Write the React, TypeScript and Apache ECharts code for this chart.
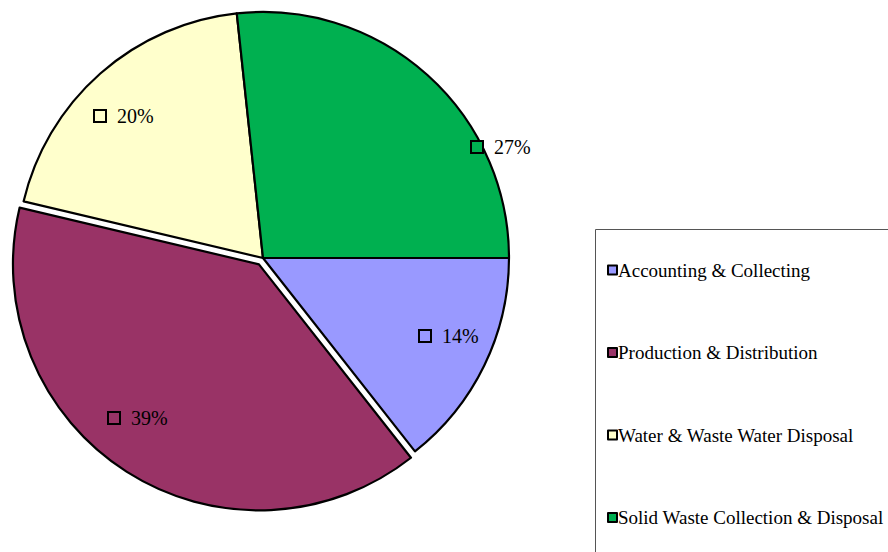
import React, { useEffect, useRef } from "react";
import * as echarts from "echarts";

const categories = [
  "Accounting & Collecting",
  "Production & Distribution",
  "Water & Waste Water Disposal",
  "Solid Waste Collection & Disposal",
];
const values = [14.4, 39.3, 19.6, 26.7];
const colors = ["#9999FF", "#993366", "#FFFFCC", "#00B050"];
const exploded = [false, true, false, false];
// label anchor offsets from pie centre (layout only)
const labelOffsets: [number, number][] = [
  [157, 78],
  [-154, 160],
  [-168, -142],
  [209, -111],
];

const CX = 263;
const CY = 258;
const R = 246;
const EXPLODE = 7.5;
const FONT = "Times New Roman, Liberation Serif, serif";

export default function App() {
  const ref = useRef<HTMLDivElement>(null);
  useEffect(() => {
    const chart = echarts.init(ref.current!, null, { renderer: "svg" });
    const total = values.reduce((a, b) => a + b, 0);
    let acc = 0;
    const mids = values.map((v) => {
      const m = ((acc + v / 2) / total) * Math.PI * 2;
      acc += v;
      return m;
    });

    const makeSeries = (part: boolean) => {
      const idx = exploded.findIndex((e) => e);
      const dx = part ? Math.cos(mids[idx]) * EXPLODE : 0;
      const dy = part ? Math.sin(mids[idx]) * EXPLODE : 0;
      return {
        type: "pie",
        center: [CX + dx, CY + dy],
        radius: [0, R],
        startAngle: 0,
        clockwise: true,
        silent: true,
        emphasis: { disabled: true },
        labelLine: { show: false },
        labelLayout: (p: any) => {
          const o = labelOffsets[p.dataIndex];
          return {
            x: CX + o[0],
            y: CY + o[1],
            align: "left",
            verticalAlign: "middle",
          };
        },
        data: categories.map((name, i) => {
          const visible = exploded[i] === part;
          return {
            name,
            value: values[i],
            itemStyle: visible
              ? { color: colors[i], borderColor: "#000", borderWidth: 2.2 }
              : { color: "transparent", borderWidth: 0 },
            label: {
              show: visible,
              position: "inside",
              fontFamily: FONT,
              formatter: (p: any) => "{box|}{p|" + Math.round(p.percent) + "%}",
              rich: {
                box: {
                  width: 10,
                  height: 10,
                  borderColor: "#000",
                  borderWidth: 2,
                  backgroundColor: colors[i],
                },
                p: {
                  fontFamily: FONT,
                  fontSize: 20,
                  color: "#000",
                  padding: [0, 0, 0, 12],
                },
              },
            },
          };
        }),
      };
    };

    chart.setOption({
      animation: false,
      backgroundColor: "#ffffff",
      textStyle: { fontFamily: FONT },
      graphic: [
        {
          type: "rect",
          shape: { x: 595.5, y: 229.5, width: 400, height: 400 },
          style: { fill: "none", stroke: "#555", lineWidth: 1 },
          z: 0,
        },
      ],
      legend: {
        orient: "vertical",
        left: 607,
        top: 260,
        padding: 0,
        itemWidth: 9,
        itemHeight: 9,
        itemGap: 62.5,
        selectedMode: false,
        icon: "rect",
        textStyle: {
          fontFamily: FONT,
          fontSize: 19,
          color: "#000",
          lineHeight: 20,
          padding: [0, 0, 0, -4],
        },
        data: categories.map((name, i) => ({
          name,
          itemStyle: { color: colors[i], borderColor: "#000", borderWidth: 2 },
        })),
      },
      series: [makeSeries(false), makeSeries(true)],
    });
    return () => chart.dispose();
  }, []);
  return (
    <div
      ref={ref}
      style={{ position: "fixed", left: 0, top: 0, width: 888, height: 552 }}
    />
  );
}
